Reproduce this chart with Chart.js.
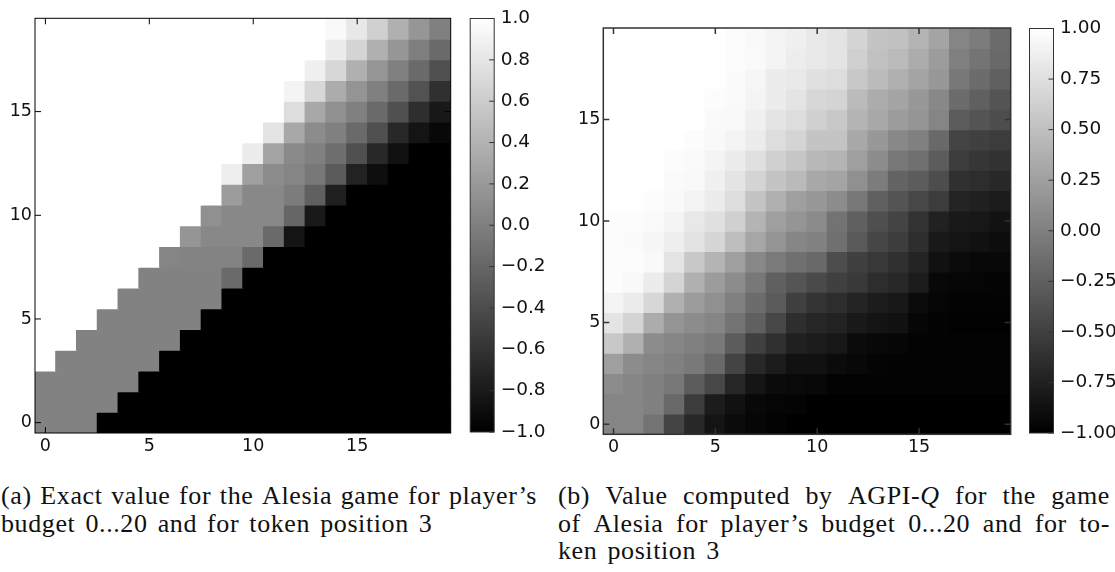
<!DOCTYPE html>
<html>
<head>
<meta charset="utf-8">
<script src="https://cdn.jsdelivr.net/npm/chart.js@4.4.1/dist/chart.umd.min.js"></script>
<style>
  body { margin: 0; background: #fff; width: 1115px; height: 572px; overflow: hidden; position: relative; }
  canvas { position: absolute; top: 0; }
  .cap { position: absolute; font-family: "Liberation Serif", serif; font-size: 26px; letter-spacing: 0.6px; color: #111; }
  .cap div { height: 27.5px; line-height: 27.5px; white-space: nowrap; }
  .cap .j { display: flex; justify-content: space-between; }
</style>
</head>
<body>
<canvas id="heatA" width="460" height="460" style="left:0px"></canvas>
<canvas id="barA" width="100" height="460" style="left:460px"></canvas>
<canvas id="heatB" width="455" height="460" style="left:560px"></canvas>
<canvas id="barB" width="100" height="460" style="left:1015px"></canvas>

<div class="cap" style="left:1px; top:482px;">
  <div class="j" style="width:536px">(a) Exact value for the Alesia game for player’s</div>
  <div style="word-spacing:3px">budget 0...20 and for token position 3</div>
</div>
<div class="cap" style="left:558px; top:482px;">
  <div class="j" style="width:552px">(b) Value computed by AGPI-<i>Q</i> for the game</div>
  <div class="j" style="width:552px">of Alesia for player’s budget 0...20 and for to-</div>
  <div style="word-spacing:3px">ken position 3</div>
</div>

<script>
// tick positions
const heatTicks = [0, 5, 10, 15];
const cbarTicksA = [-1, -0.8, -0.6, -0.4, -0.2, 0, 0.2, 0.4, 0.6, 0.8, 1];
const cbarTicksB = [-1, -0.75, -0.5, -0.25, 0, 0.25, 0.5, 0.75, 1];

// (a) exact value, rows listed from top (19) down to bottom (0), columns 0..19
const exactRows = [
  [1,1,1,1,1,1,1,1,1,1,1,1,1,1,.95,.82,.63,.38,.18,0],
  [1,1,1,1,1,1,1,1,1,1,1,1,1,1,.85,.66,.38,.18,-.01,-.17],
  [1,1,1,1,1,1,1,1,1,1,1,1,1,.88,.69,.38,.18,0,-.17,-.37],
  [1,1,1,1,1,1,1,1,1,1,1,1,.91,.69,.35,.16,0,-.17,-.36,-.62],
  [1,1,1,1,1,1,1,1,1,1,1,1,.73,.32,.13,0,-.17,-.37,-.64,-.81],
  [1,1,1,1,1,1,1,1,1,1,1,.79,.32,.1,0,-.17,-.37,-.69,-.84,-.94],
  [1,1,1,1,1,1,1,1,1,1,.85,.29,.08,0,-.14,-.37,-.69,-.87,-1,-1],
  [1,1,1,1,1,1,1,1,1,.87,.25,.1,.04,-.06,-.29,-.73,-.89,-1,-1,-1],
  [1,1,1,1,1,1,1,1,1,.22,.07,.07,-.03,-.25,-.76,-1,-1,-1,-1,-1],
  [1,1,1,1,1,1,1,1,.13,.07,.07,.07,-.2,-.8,-1,-1,-1,-1,-1,-1],
  [1,1,1,1,1,1,1,.17,.07,.07,.07,-.17,-.84,-1,-1,-1,-1,-1,-1,-1],
  [1,1,1,1,1,1,.04,.03,.03,.03,-.17,-1,-1,-1,-1,-1,-1,-1,-1,-1],
  [1,1,1,1,1,.02,.02,.02,.02,-.17,-1,-1,-1,-1,-1,-1,-1,-1,-1,-1],
  [1,1,1,1,.02,.02,.02,.02,.02,-1,-1,-1,-1,-1,-1,-1,-1,-1,-1,-1],
  [1,1,1,.02,.02,.02,.02,.02,-1,-1,-1,-1,-1,-1,-1,-1,-1,-1,-1,-1],
  [1,1,.02,.02,.02,.02,.02,-1,-1,-1,-1,-1,-1,-1,-1,-1,-1,-1,-1,-1],
  [1,.02,.02,.02,.02,.02,-1,-1,-1,-1,-1,-1,-1,-1,-1,-1,-1,-1,-1,-1],
  [.02,.02,.02,.02,.02,-1,-1,-1,-1,-1,-1,-1,-1,-1,-1,-1,-1,-1,-1,-1],
  [.02,.02,.02,.02,-1,-1,-1,-1,-1,-1,-1,-1,-1,-1,-1,-1,-1,-1,-1,-1],
  [.02,.02,.02,-1,-1,-1,-1,-1,-1,-1,-1,-1,-1,-1,-1,-1,-1,-1,-1,-1]
];

// (b) AGPI-Q value, same layout
const agpiRows = [
  [1,1,1,1,1,1,.98,.95,.91,.88,.82,.79,.66,.54,.51,.41,.29,.04,-.03,-.15],
  [1,1,1,1,1,1,.98,.96,.91,.86,.82,.79,.63,.51,.47,.35,.22,0,-.09,-.18],
  [1,1,1,1,1,.99,.97,.93,.85,.83,.76,.73,.57,.47,.38,.29,.19,-.06,-.15,-.25],
  [1,1,1,1,1,.98,.96,.91,.85,.79,.69,.66,.47,.35,.29,.19,.07,-.15,-.25,-.34],
  [1,1,1,1,1,.96,.95,.88,.79,.73,.63,.57,.41,.32,.22,.16,.04,-.28,-.34,-.4],
  [1,1,1,1,.98,.95,.91,.85,.73,.66,.54,.54,.32,.19,.07,0,-.18,-.47,-.5,-.53],
  [1,1,1,.98,.96,.91,.85,.76,.63,.55,.44,.41,.25,.1,-.06,-.12,-.28,-.53,-.58,-.61],
  [1,1,1,.96,.95,.88,.79,.66,.54,.46,.32,.29,.13,-.03,-.22,-.28,-.4,-.62,-.65,-.69],
  [.99,.99,.98,.95,.91,.85,.73,.54,.38,.25,.19,.1,-.06,-.25,-.34,-.44,-.53,-.72,-.75,-.78],
  [.98,.98,.96,.91,.82,.76,.63,.41,.25,.17,.09,-.1,-.25,-.38,-.47,-.6,-.74,-.8,-.82,-.86],
  [.98,.97,.93,.87,.78,.68,.49,.3,.16,.05,.02,-.12,-.3,-.45,-.52,-.64,-.8,-.84,-.87,-.9],
  [.98,.98,.95,.79,.57,.41,.25,.07,-.04,-.12,-.18,-.4,-.5,-.56,-.62,-.72,-.87,-.91,-.94,-.94],
  [.98,.95,.85,.66,.38,.22,.1,-.06,-.25,-.33,-.42,-.5,-.55,-.65,-.69,-.78,-.94,-.95,-.96,-.97],
  [.91,.85,.69,.38,.22,.13,0,-.15,-.29,-.5,-.59,-.65,-.72,-.78,-.81,-.91,-.96,-.98,-.98,-.98],
  [.79,.66,.35,.16,.1,.04,-.09,-.25,-.44,-.64,-.7,-.73,-.8,-.84,-.87,-.95,-.98,-.99,-.99,-.99],
  [.57,.38,.1,.04,0,-.05,-.28,-.5,-.62,-.75,-.78,-.81,-.91,-.94,-.95,-.98,-.98,-.98,-.98,-.98],
  [.25,.1,.04,0,-.05,-.18,-.47,-.69,-.78,-.87,-.87,-.91,-.94,-.97,-.98,-.98,-.98,-.98,-.98,-.98],
  [.1,.05,0,-.06,-.28,-.44,-.7,-.84,-.91,-.93,-.94,-.98,-.98,-.98,-.98,-.98,-.98,-.98,-.98,-.98],
  [.04,.04,0,-.18,-.53,-.78,-.87,-.94,-.96,-.97,-1,-1,-1,-1,-1,-1,-1,-1,-1,-1],
  [.04,.04,-.1,-.47,-.69,-.84,-.91,-.95,-.98,-1,-1,-1,-1,-1,-1,-1,-1,-1,-1,-1]
];

// justified caption lines: one span per word
document.querySelectorAll(".cap .j").forEach((el) => {
  el.innerHTML = el.innerHTML.trim().split(/\s+/).map((w) => "<span>" + w + "</span>").join("");
});

Chart.defaults.font.family = "'DejaVu Sans', sans-serif";
Chart.defaults.font.size = 17.5;
Chart.defaults.color = "#111";
Chart.defaults.animation = false;
Chart.defaults.events = [];
Chart.defaults.plugins.legend.display = false;
Chart.defaults.plugins.tooltip.enabled = false;

function gray(v) {
  const g = Math.round(((v + 1) / 2) * 255);
  return "rgb(" + g + "," + g + "," + g + ")";
}

/* one floating-bar dataset per row of cells */
function heatDatasets(rows) {
  return rows.map((row, i) => {
    const y = rows.length - 1 - i;
    return {
      data: row.map((v, x) => ({ x: x, y: [y - 0.5, y + 0.5] })),
      backgroundColor: row.map(gray),
      borderWidth: 0,
      inflateAmount: 0.6,
      barPercentage: 1,
      categoryPercentage: 1,
      grouped: false,
    };
  });
}

/* axes frame with matplotlib style inward ticks */
const framePlugin = {
  id: "frame",
  afterDatasetsDraw(chart, args, opts) {
    const { ctx, chartArea: a } = chart;
    const len = opts.tickLen || 6;
    ctx.save();
    ctx.strokeStyle = opts.color;
    ctx.lineWidth = opts.width;
    ctx.beginPath();
    if (opts.xTicks) {
      opts.xTicks.forEach((v) => {
        const px = chart.scales.x.getPixelForValue(v);
        ctx.moveTo(px, a.top); ctx.lineTo(px, a.top + len);
        ctx.moveTo(px, a.bottom); ctx.lineTo(px, a.bottom - len);
      });
    }
    if (opts.yTicks) {
      opts.yTicks.forEach((v) => {
        const py = chart.scales.y.getPixelForValue(v);
        if (opts.left !== false) { ctx.moveTo(a.left, py); ctx.lineTo(a.left + len, py); }
        ctx.moveTo(a.right, py); ctx.lineTo(a.right - len, py);
      });
    }
    ctx.stroke();
    ctx.strokeRect(a.left, a.top, a.right - a.left, a.bottom - a.top);
    ctx.restore();
  },
};

function heatChart(id, rows, box, frameColor, frameWidth) {
  const cv = document.getElementById(id);
  return new Chart(cv, {
    type: "bar",
    data: { datasets: heatDatasets(rows) },
    plugins: [framePlugin],
    options: {
      responsive: false,
      devicePixelRatio: 1,
      layout: { padding: { left: 0, top: box.top, right: cv.width - box.right, bottom: 0 } },
      scales: {
        x: {
          type: "linear", min: -0.5, max: 19.5, offset: false,
          grid: { display: false, drawTicks: false }, border: { display: false },
          afterBuildTicks: (s) => { s.ticks = heatTicks.map((v) => ({ value: v })); },
          ticks: { padding: 3, maxRotation: 0, callback: (v) => String(v) },
          afterFit: (s) => { s.height = cv.height - box.bottom; },
        },
        y: {
          type: "linear", min: -0.5, max: 19.5,
          grid: { display: false, drawTicks: false }, border: { display: false },
          afterBuildTicks: (s) => { s.ticks = heatTicks.map((v) => ({ value: v })); },
          ticks: { padding: 3, callback: (v) => String(v) },
          afterFit: (s) => { s.width = box.left; },
        },
      },
      plugins: {
        frame: { color: frameColor, width: frameWidth, tickLen: 6, xTicks: heatTicks, yTicks: heatTicks },
      },
    },
  });
}

function colorBar(id, ticks, digits, box) {
  const cv = document.getElementById(id);
  return new Chart(cv, {
    type: "bar",
    data: {
      labels: [""],
      datasets: [{
        data: [[-1, 1]],
        barPercentage: 1,
        categoryPercentage: 1,
        borderWidth: 0,
        backgroundColor: (c) => {
          const a = c.chart.chartArea;
          if (!a) return "#808080";
          const g = c.chart.ctx.createLinearGradient(0, a.bottom, 0, a.top);
          g.addColorStop(0, "#000");
          g.addColorStop(1, "#fff");
          return g;
        },
      }],
    },
    plugins: [framePlugin],
    options: {
      responsive: false,
      devicePixelRatio: 1,
      layout: { padding: { left: box.left, top: box.top, right: 0, bottom: cv.height - box.bottom } },
      scales: {
        x: { display: false },
        y: {
          position: "right", min: -1, max: 1,
          grid: { display: false, drawTicks: false }, border: { display: false },
          afterBuildTicks: (s) => { s.ticks = ticks.map((v) => ({ value: v })); },
          ticks: {
            padding: 6.5,
            font: { size: 18.5 },
            callback: (v) => (v < 0 ? "\u2212" : "") + Math.abs(v).toFixed(digits),
          },
          afterFit: (s) => { s.width = cv.width - box.right; },
        },
      },
      plugins: {
        frame: { color: "#333", width: 1, tickLen: 5, yTicks: ticks, left: false },
      },
    },
  });
}

heatChart("heatA", exactRows, { left: 35, top: 18.3, right: 450.7, bottom: 433 }, "#000", 1);
colorBar("barA", cbarTicksA, 1, { left: 10.2, top: 18.5, right: 34.2, bottom: 432 });
heatChart("heatB", agpiRows, { left: 43.3, top: 28, right: 450.7, bottom: 434.3 }, "#333", 1.5);
colorBar("barB", cbarTicksB, 2, { left: 14.5, top: 28.5, right: 38.5, bottom: 433 });
</script>
</body>
</html>
